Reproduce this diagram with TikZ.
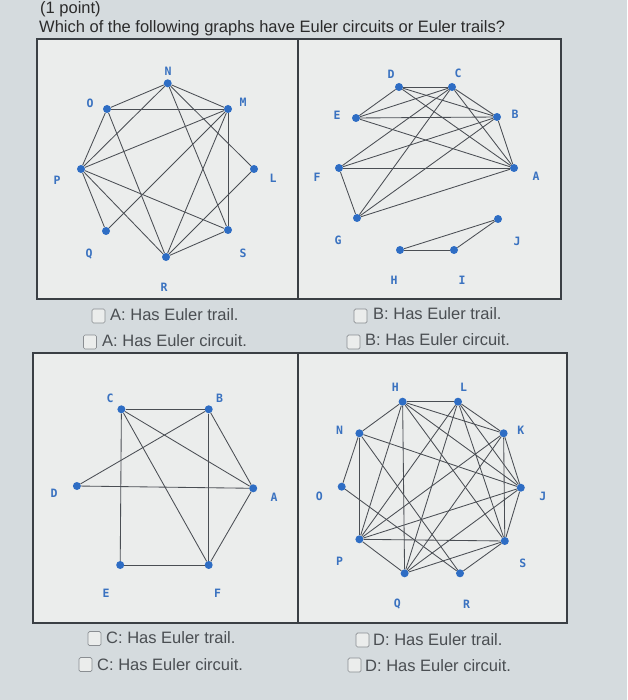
\documentclass[tikz,border=0pt]{standalone}
\usepackage{fontspec}
\setmainfont{Liberation Sans}
\newfontfamily\lblfont{DejaVu Sans Mono}[BoldFont={* Bold}]
\definecolor{bgcol}{HTML}{D5DBDE}
\definecolor{cellcol}{HTML}{EBEDEC}
\definecolor{tabline}{HTML}{3A3F44}
\definecolor{nodeblue}{HTML}{2E6DC4}
\definecolor{lblblue}{HTML}{3A72C0}
\definecolor{edgecol}{HTML}{4A4E54}
\definecolor{titlecol}{HTML}{2B2B2B}
\definecolor{optcol}{HTML}{4A4E52}
\definecolor{boxcol}{HTML}{8A8E92}
\tikzset{
  vtx/.style={circle, fill=nodeblue, inner sep=0pt, minimum size=8pt},
  lbl/.style={text=lblblue, font=\lblfont\bfseries\fontsize{11.5}{13}\selectfont, inner sep=0pt},
  ed/.style={draw=edgecol, line width=0.85pt},
  opt/.style={anchor=base west, text=optcol, font=\fontsize{16.5}{19}\selectfont, inner sep=0pt},
  ttl/.style={anchor=base west, text=titlecol, font=\fontsize{16.5}{19}\selectfont, inner sep=0pt},
  cbox/.style={draw=boxcol, fill=cellcol, rounded corners=1.5pt, minimum width=13pt, minimum height=14pt, inner sep=0pt, line width=0.7pt},
  cell/.style={draw=tabline, line width=1.2pt, fill=cellcol}
}
\begin{document}
\begin{tikzpicture}[x=1pt,y=-1pt]
\fill[bgcol] (0,0) rectangle (627,700);
\useasboundingbox (0,0) rectangle (627,700);
% table cells
\draw[cell] (37,39) rectangle (298,299);
\draw[cell] (298,39) rectangle (561,299);
\draw[cell] (33,353) rectangle (298,623);
\draw[cell] (298,353) rectangle (567,623);
% title
\node[ttl] (t1) at (40,13.5) {(1 point)};
\node[ttl] (t2) at (39,33) {Which of the following graphs have Euler circuits or Euler trails?};

% ---------- Graph A ----------
\node[vtx] (aN) at (167.7,83.3) {};
\node[vtx] (aM) at (228,109) {};
\node[vtx] (aO) at (107,109) {};
\node[vtx] (aP) at (81,169) {};
\node[vtx] (aL) at (254,169) {};
\node[vtx] (aQ) at (106,231) {};
\node[vtx] (aS) at (228,230) {};
\node[vtx] (aR) at (166,257) {};
\node[lbl] (aNl) at (168,71) {N};
\node[lbl] (aMl) at (243,102) {M};
\node[lbl] (aOl) at (90,103) {O};
\node[lbl] (aPl) at (57,180) {P};
\node[lbl] (aLl) at (273,178) {L};
\node[lbl] (aQl) at (89,254) {Q};
\node[lbl] (aSl) at (243,253) {S};
\node[lbl] (aRl) at (164,287) {R};
\foreach \u/\v in {N/O,N/M,N/P,N/L,N/S,O/M,O/P,O/R,M/P,M/S,M/R,M/Q,P/Q,P/S,P/R,L/R,S/R}
  \draw[ed] (a\u) -- (a\v);

% ---------- Graph B ----------
\node[vtx] (bD) at (399,87) {};
\node[vtx] (bC) at (452,87) {};
\node[vtx] (bE) at (356,118) {};
\node[vtx] (bB) at (497,117) {};
\node[vtx] (bF) at (339,168) {};
\node[vtx] (bA) at (514,168) {};
\node[vtx] (bG) at (357,218) {};
\node[vtx] (bJ) at (498,219) {};
\node[vtx] (bH) at (400,250) {};
\node[vtx] (bI) at (454,250) {};
\node[lbl] (bDl) at (391,74) {D};
\node[lbl] (bCl) at (458,73) {C};
\node[lbl] (bEl) at (337,115) {E};
\node[lbl] (bBl) at (515,114) {B};
\node[lbl] (bFl) at (317,177) {F};
\node[lbl] (bAl) at (536,176) {A};
\node[lbl] (bGl) at (338,240) {G};
\node[lbl] (bJl) at (517,241) {J};
\node[lbl] (bHl) at (394,280) {H};
\node[lbl] (bIl) at (462,280) {I};
\foreach \u/\v in {D/C,D/E,D/B,D/A,C/E,C/B,C/A,C/F,C/G,E/B,E/A,B/F,B/G,B/A,F/A,F/G,G/A,H/I,H/J,I/J}
  \draw[ed] (b\u) -- (b\v);

% ---------- Graph C ----------
\node[vtx] (cC) at (121.4,409.3) {};
\node[vtx] (cB) at (208.7,409.3) {};
\node[vtx] (cD) at (76.9,486) {};
\node[vtx] (cA) at (253.2,488.3) {};
\node[vtx] (cE) at (120.2,565) {};
\node[vtx] (cF) at (208.7,565) {};
\node[lbl] (cCl) at (110,398) {C};
\node[lbl] (cBl) at (219.5,398) {B};
\node[lbl] (cDl) at (54,493) {D};
\node[lbl] (cAl) at (274,497) {A};
\node[lbl] (cEl) at (106,593) {E};
\node[lbl] (cFl) at (217.5,593) {F};
\foreach \u/\v in {C/B,C/E,C/A,C/F,B/D,B/F,B/A,D/A,A/F,E/F}
  \draw[ed] (c\u) -- (c\v);

% ---------- Graph D ----------
\node[vtx] (dH) at (402.6,401.7) {};
\node[vtx] (dL) at (458,401.7) {};
\node[vtx] (dN) at (359.4,433.3) {};
\node[vtx] (dK) at (503.6,433.3) {};
\node[vtx] (dO) at (341.7,486.7) {};
\node[vtx] (dJ) at (520.8,487.7) {};
\node[vtx] (dP) at (359.4,539.3) {};
\node[vtx] (dS) at (504.8,541) {};
\node[vtx] (dQ) at (404.6,573.3) {};
\node[vtx] (dR) at (460,573.3) {};
\node[lbl] (dHl) at (395.4,387.3) {H};
\node[lbl] (dLl) at (463.5,387.3) {L};
\node[lbl] (dNl) at (339.7,430) {N};
\node[lbl] (dKl) at (520.8,430) {K};
\node[lbl] (dOl) at (319.3,496) {O};
\node[lbl] (dJl) at (542.9,496.7) {J};
\node[lbl] (dPl) at (339.7,561.7) {P};
\node[lbl] (dSl) at (522.8,563.3) {S};
\node[lbl] (dQl) at (397.4,604) {Q};
\node[lbl] (dRl) at (466.7,604) {R};
\foreach \u/\v in {H/L,H/N,H/K,H/J,H/S,H/Q,H/P,L/K,L/J,L/S,L/P,L/Q,N/O,N/P,N/J,N/R,O/R,K/S,K/P,K/Q,K/J,J/S,J/P,J/Q,P/S,P/Q,Q/S,R/S}
  \draw[ed] (d\u) -- (d\v);

% ---------- Options ----------
\node[cbox] (kA1) at (98.5,316) {};
\node[opt] (oA1) at (110,320) {A: Has Euler trail.};
\node[cbox] (kA2) at (90,342) {};
\node[opt] (oA2) at (102,346) {A: Has Euler circuit.};
\node[cbox] (kB1) at (360.5,316) {};
\node[opt] (oB1) at (373,319.5) {B: Has Euler trail.};
\node[cbox] (kB2) at (353.5,342) {};
\node[opt] (oB2) at (365,345.5) {B: Has Euler circuit.};
\node[cbox] (kC1) at (94.5,638.5) {};
\node[opt] (oC1) at (106,643.5) {C: Has Euler trail.};
\node[cbox] (kC2) at (85.5,664.5) {};
\node[opt] (oC2) at (97,670) {C: Has Euler circuit.};
\node[cbox] (kD1) at (362.5,640) {};
\node[opt] (oD1) at (373,645) {D: Has Euler trail.};
\node[cbox] (kD2) at (354.5,665) {};
\node[opt] (oD2) at (365,671) {D: Has Euler circuit.};
\end{tikzpicture}
\end{document}
